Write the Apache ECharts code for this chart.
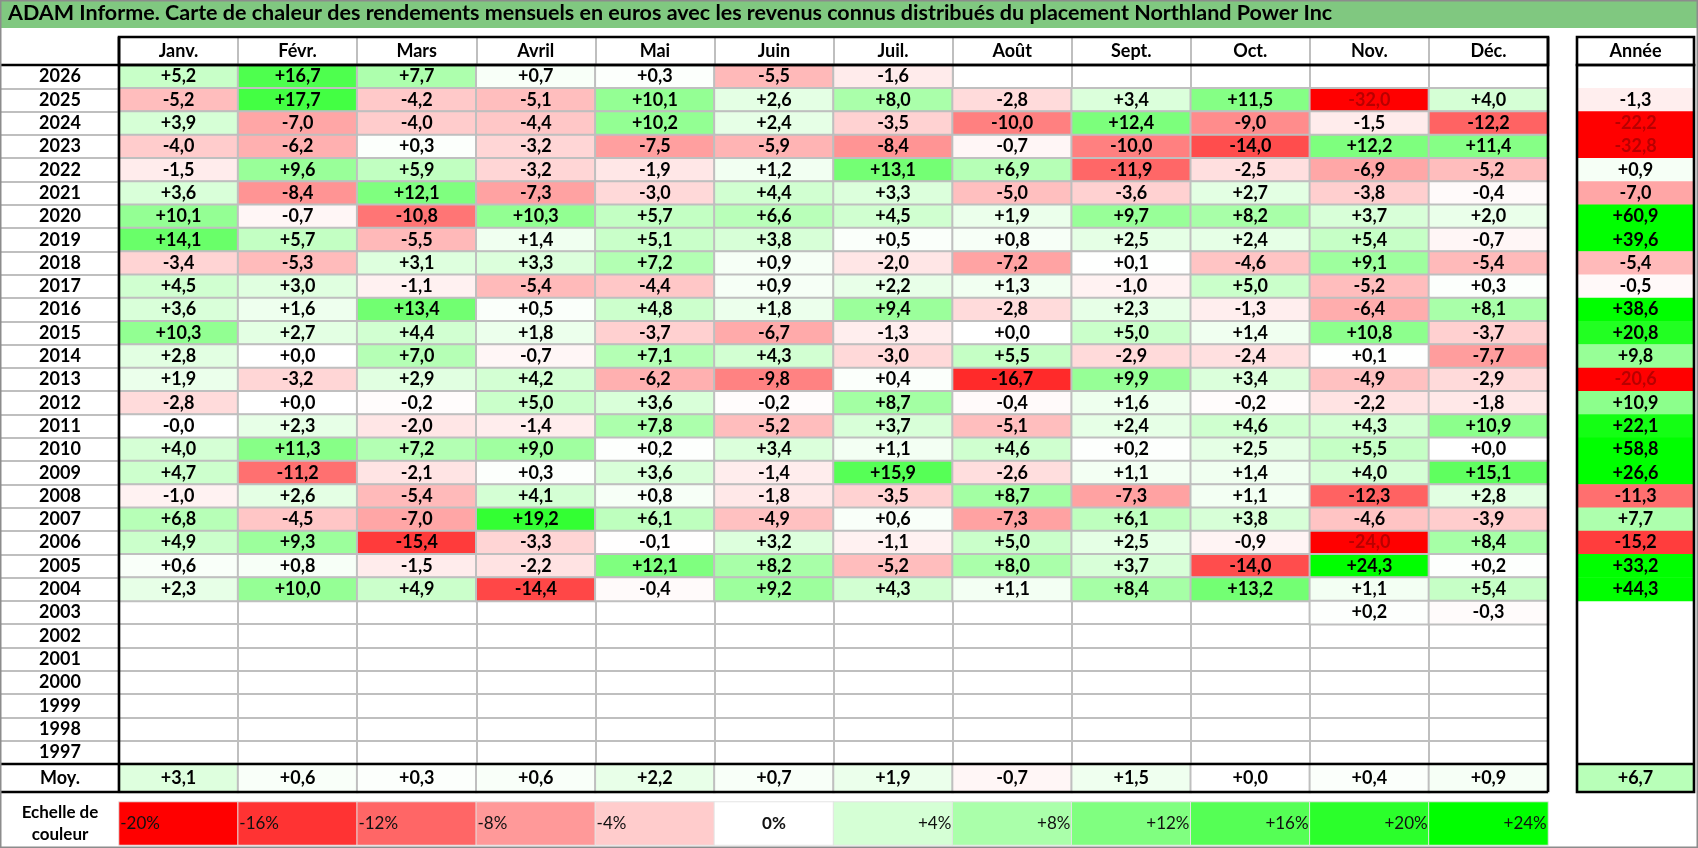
<!DOCTYPE html>
<html>
<head>
<meta charset="utf-8">
<title>ADAM Informe - Northland Power Inc</title>
<script src="https://cdn.jsdelivr.net/npm/echarts@6/dist/echarts.min.js"></script>
<style>
  html, body { margin: 0; padding: 0; background: #fff; }
  #chart { width: 1698px; height: 848px; }
</style>
</head>
<body>
<div id="chart"></div>
<script>
// données du tableau
const titleText = "ADAM Informe. Carte de chaleur des rendements mensuels en euros avec les revenus connus distribués du placement Northland Power Inc";
const months = ["Janv.", "Févr.", "Mars", "Avril", "Mai", "Juin", "Juil.", "Août", "Sept.", "Oct.", "Nov.", "Déc."];
const years = [2026, 2025, 2024, 2023, 2022, 2021, 2020, 2019, 2018, 2017, 2016, 2015, 2014, 2013, 2012,
  2011, 2010, 2009, 2008, 2007, 2006, 2005, 2004, 2003, 2002, 2001, 2000, 1999, 1998, 1997];
// une ligne par année, même ordre que years ; null = case vide
const monthlyReturns = [
  [5.2, 16.7, 7.7, 0.7, 0.3, -5.5, -1.6, null, null, null, null, null],
  [-5.2, 17.7, -4.2, -5.1, 10.1, 2.6, 8.0, -2.8, 3.4, 11.5, -32.0, 4.0],
  [3.9, -7.0, -4.0, -4.4, 10.2, 2.4, -3.5, -10.0, 12.4, -9.0, -1.5, -12.2],
  [-4.0, -6.2, 0.3, -3.2, -7.5, -5.9, -8.4, -0.7, -10.0, -14.0, 12.2, 11.4],
  [-1.5, 9.6, 5.9, -3.2, -1.9, 1.2, 13.1, 6.9, -11.9, -2.5, -6.9, -5.2],
  [3.6, -8.4, 12.1, -7.3, -3.0, 4.4, 3.3, -5.0, -3.6, 2.7, -3.8, -0.4],
  [10.1, -0.7, -10.8, 10.3, 5.7, 6.6, 4.5, 1.9, 9.7, 8.2, 3.7, 2.0],
  [14.1, 5.7, -5.5, 1.4, 5.1, 3.8, 0.5, 0.8, 2.5, 2.4, 5.4, -0.7],
  [-3.4, -5.3, 3.1, 3.3, 7.2, 0.9, -2.0, -7.2, 0.1, -4.6, 9.1, -5.4],
  [4.5, 3.0, -1.1, -5.4, -4.4, 0.9, 2.2, 1.3, -1.0, 5.0, -5.2, 0.3],
  [3.6, 1.6, 13.4, 0.5, 4.8, 1.8, 9.4, -2.8, 2.3, -1.3, -6.4, 8.1],
  [10.3, 2.7, 4.4, 1.8, -3.7, -6.7, -1.3, 0.0, 5.0, 1.4, 10.8, -3.7],
  [2.8, 0.0, 7.0, -0.7, 7.1, 4.3, -3.0, 5.5, -2.9, -2.4, 0.1, -7.7],
  [1.9, -3.2, 2.9, 4.2, -6.2, -9.8, 0.4, -16.7, 9.9, 3.4, -4.9, -2.9],
  [-2.8, 0.0, -0.2, 5.0, 3.6, -0.2, 8.7, -0.4, 1.6, -0.2, -2.2, -1.8],
  [-0.02, 2.3, -2.0, -1.4, 7.8, -5.2, 3.7, -5.1, 2.4, 4.6, 4.3, 10.9],
  [4.0, 11.3, 7.2, 9.0, 0.2, 3.4, 1.1, 4.6, 0.2, 2.5, 5.5, 0.0],
  [4.7, -11.2, -2.1, 0.3, 3.6, -1.4, 15.9, -2.6, 1.1, 1.4, 4.0, 15.1],
  [-1.0, 2.6, -5.4, 4.1, 0.8, -1.8, -3.5, 8.7, -7.3, 1.1, -12.3, 2.8],
  [6.8, -4.5, -7.0, 19.2, 6.1, -4.9, 0.6, -7.3, 6.1, 3.8, -4.6, -3.9],
  [4.9, 9.3, -15.4, -3.3, -0.1, 3.2, -1.1, 5.0, 2.5, -0.9, -24.0, 8.4],
  [0.6, 0.8, -1.5, -2.2, 12.1, 8.2, -5.2, 8.0, 3.7, -14.0, 24.3, 0.2],
  [2.3, 10.0, 4.9, -14.4, -0.4, 9.2, 4.3, 1.1, 8.4, 13.2, 1.1, 5.4],
  [null, null, null, null, null, null, null, null, null, null, 0.2, -0.3],
  [null, null, null, null, null, null, null, null, null, null, null, null],
  [null, null, null, null, null, null, null, null, null, null, null, null],
  [null, null, null, null, null, null, null, null, null, null, null, null],
  [null, null, null, null, null, null, null, null, null, null, null, null],
  [null, null, null, null, null, null, null, null, null, null, null, null],
  [null, null, null, null, null, null, null, null, null, null, null, null],
];
const yearTotals = [null, -1.3, -22.2, -32.8, 0.9, -7.0, 60.9, 39.6, -5.4, -0.5, 38.6, 20.8, 9.8, -20.6,
  10.9, 22.1, 58.8, 26.6, -11.3, 7.7, -15.2, 33.2, 44.3, null, null, null, null, null, null, null];
const monthAverages = [3.1, 0.6, 0.3, 0.6, 2.2, 0.7, 1.9, -0.7, 1.5, 0.0, 0.4, 0.9];
const averageTotal = 6.7;
const scaleSteps = [-20, -16, -12, -8, -4, 0, 4, 8, 12, 16, 20, 24];
const scaleLabels = ["-20%", "-16%", "-12%", "-8%", "-4%", "0%", "+4%", "+8%", "+12%", "+16%", "+20%", "+24%"];
const scaleColors = ["#FF0000", "#FF3333", "#FF6666", "#FF9999", "#FFCCCC", "#FFFFFF",
  "#D5FFD5", "#AAFFAA", "#80FF80", "#55FF55", "#2BFF2B", "#00FF00"];

const FONT = "Lato";
const GRAY = "#BFBFBF";
const FS = 18;

// mise en page (px)
const colL = 119, colR = 1548;
const rowTop = 65, rowBot = 764;
const headTop = 37;
const moyBot = 792;
const annL = 1577, annR = 1694;

function fmt(v) {
  return (v >= 0 ? "+" : "") + v.toFixed(1).replace(".", ",");
}

function cell(x, y, v) {
  return { value: [x, y, v], label: { color: v <= -20 ? "#B80000" : "#000" } };
}

const mainData = [];
monthlyReturns.forEach((row, yi) => {
  row.forEach((v, mi) => {
    if (v !== null) mainData.push(cell(mi, yi, v));
  });
});
const totalData = [];
yearTotals.forEach((v, yi) => {
  if (v !== null) totalData.push(cell(0, yi, v));
});
const moyData = monthAverages.map((v, mi) => cell(mi, 0, v));
const scaleData = scaleSteps.map((v, i) => ({
  value: [i, 0, v],
  label: {
    position: v < 0 ? "insideLeft" : v === 0 ? "inside" : "insideRight",
    fontWeight: v === 0 ? "bold" : "normal",
  },
}));

const valueLabel = {
  show: true,
  formatter: (p) => fmt(p.value[2]),
  fontFamily: FONT,
  fontWeight: "bold",
  fontSize: FS,
};

function hiddenCat(gridIndex, data, extra) {
  return Object.assign({
    type: "category",
    gridIndex: gridIndex,
    data: data,
    axisLine: { show: false },
    axisTick: { show: false },
    axisLabel: { show: false },
    splitLine: { show: false },
  }, extra || {});
}

function hline(x1, x2, y) {
  return { type: "line", z: 100, shape: { x1: x1, y1: y, x2: x2, y2: y }, style: { stroke: "#000", lineWidth: 2.6 } };
}
function vline(x, y1, y2) {
  return { type: "line", z: 100, shape: { x1: x, y1: y1, x2: x, y2: y2 }, style: { stroke: "#000", lineWidth: 2.6 } };
}

const chart = echarts.init(document.getElementById("chart"));
const option = {
  backgroundColor: "#fff",
  animation: false,
  grid: [
    { left: colL, top: rowTop, width: colR - colL, height: rowBot - rowTop, outerBoundsMode: "none" },
    { left: annL, top: rowTop, width: annR - annL, height: rowBot - rowTop, outerBoundsMode: "none" },
    { left: colL, top: rowBot, width: colR - colL, height: moyBot - rowBot, outerBoundsMode: "none" },
    { left: annL, top: rowBot, width: annR - annL, height: moyBot - rowBot, outerBoundsMode: "none" },
    { left: colL, top: 802, width: colR - colL, height: 43, outerBoundsMode: "none" },
  ],
  xAxis: [
    {
      type: "category",
      gridIndex: 0,
      data: months,
      position: "top",
      axisLine: { show: false },
      axisTick: { show: true, interval: 0, length: rowTop - headTop, lineStyle: { color: GRAY, width: 2 } },
      axisLabel: { interval: 0, margin: 5, fontFamily: FONT, fontWeight: "bold", fontSize: FS, color: "#000" },
      splitLine: { show: true, interval: 0, lineStyle: { color: GRAY, width: 2 } },
    },
    {
      type: "category",
      gridIndex: 1,
      data: ["Année"],
      position: "top",
      axisLine: { show: false },
      axisTick: { show: false },
      axisLabel: { margin: 5, fontFamily: FONT, fontWeight: "bold", fontSize: FS, color: "#000" },
    },
    hiddenCat(2, months),
    hiddenCat(3, ["Année"]),
    hiddenCat(4, scaleLabels),
  ],
  yAxis: [
    {
      type: "category",
      gridIndex: 0,
      data: years,
      inverse: true,
      axisLine: { show: false },
      axisTick: { show: true, interval: 0, length: colL, lineStyle: { color: GRAY, width: 2 } },
      axisLabel: { interval: 0, align: "center", margin: 59, fontFamily: FONT, fontWeight: "bold", fontSize: FS, color: "#000" },
      splitLine: { show: true, interval: 0, lineStyle: { color: GRAY, width: 2 } },
    },
    hiddenCat(1, years, { inverse: true }),
    hiddenCat(2, ["Moy."], {
      axisLabel: { show: true, align: "center", margin: 59, fontFamily: FONT, fontWeight: "bold", fontSize: FS, color: "#000" },
    }),
    hiddenCat(3, ["Moy."]),
    hiddenCat(4, ["Echelle de\ncouleur"], {
      axisLabel: { show: true, align: "center", margin: 59, lineHeight: 22, fontFamily: FONT, fontWeight: "bold", fontSize: 17, color: "#000" },
    }),
  ],
  visualMap: {
    type: "continuous",
    show: false,
    min: scaleSteps[0],
    max: scaleSteps[scaleSteps.length - 1],
    dimension: 2,
    seriesIndex: [0, 1, 2, 3, 4],
    inRange: { color: scaleColors },
  },
  series: [
    {
      type: "heatmap",
      xAxisIndex: 0,
      yAxisIndex: 0,
      data: mainData,
      label: valueLabel,
      itemStyle: { borderColor: GRAY, borderWidth: 2 },
      emphasis: { disabled: true },
    },
    {
      type: "heatmap",
      xAxisIndex: 1,
      yAxisIndex: 1,
      data: totalData,
      label: valueLabel,
      emphasis: { disabled: true },
    },
    {
      type: "heatmap",
      xAxisIndex: 2,
      yAxisIndex: 2,
      data: moyData,
      label: valueLabel,
      itemStyle: { borderColor: GRAY, borderWidth: 2 },
      emphasis: { disabled: true },
    },
    {
      type: "heatmap",
      xAxisIndex: 3,
      yAxisIndex: 3,
      data: [cell(0, 0, averageTotal)],
      label: valueLabel,
      emphasis: { disabled: true },
    },
    {
      type: "heatmap",
      xAxisIndex: 4,
      yAxisIndex: 4,
      data: scaleData,
      label: {
        show: true,
        formatter: (p) => scaleLabels[p.dataIndex],
        fontFamily: FONT,
        fontSize: 17,
        color: "#111",
        distance: 2,
      },
      itemStyle: { borderColor: "#E4E4E4", borderWidth: 1 },
      emphasis: { disabled: true },
    },
  ],
  graphic: [
    // bandeau de titre
    { type: "rect", z: 90, shape: { x: 0, y: 0, width: 1698, height: 28 }, style: { fill: "#80C880" } },
    { type: "text", z: 91, left: 8, top: 2, style: { text: titleText, font: "bold 21.5px " + FONT, fill: "#000" } },
    // cadre du tableau mensuel
    { type: "rect", z: 100, shape: { x: colL, y: headTop, width: colR - colL, height: rowTop - headTop }, style: { fill: "none", stroke: "#000", lineWidth: 2.6 } },
    hline(0, colR, rowTop),
    vline(colL, headTop, moyBot),
    vline(colR, headTop, moyBot),
    hline(0, colR, rowBot),
    hline(0, colR, moyBot),
    // cadre de la colonne Année
    { type: "rect", z: 100, shape: { x: annL, y: headTop, width: annR - annL, height: rowTop - headTop }, style: { fill: "none", stroke: "#000", lineWidth: 2.6 } },
    { type: "rect", z: 100, shape: { x: annL, y: rowTop, width: annR - annL, height: moyBot - rowTop }, style: { fill: "none", stroke: "#000", lineWidth: 2.6 } },
    hline(annL, annR, rowBot),
    // bordure extérieure
    { type: "rect", z: 110, shape: { x: 0.75, y: 0.75, width: 1696.5, height: 846.5 }, style: { fill: "none", stroke: "#8C8C8C", lineWidth: 1.5 } },
  ],
};
chart.setOption(option);
</script>
</body>
</html>
